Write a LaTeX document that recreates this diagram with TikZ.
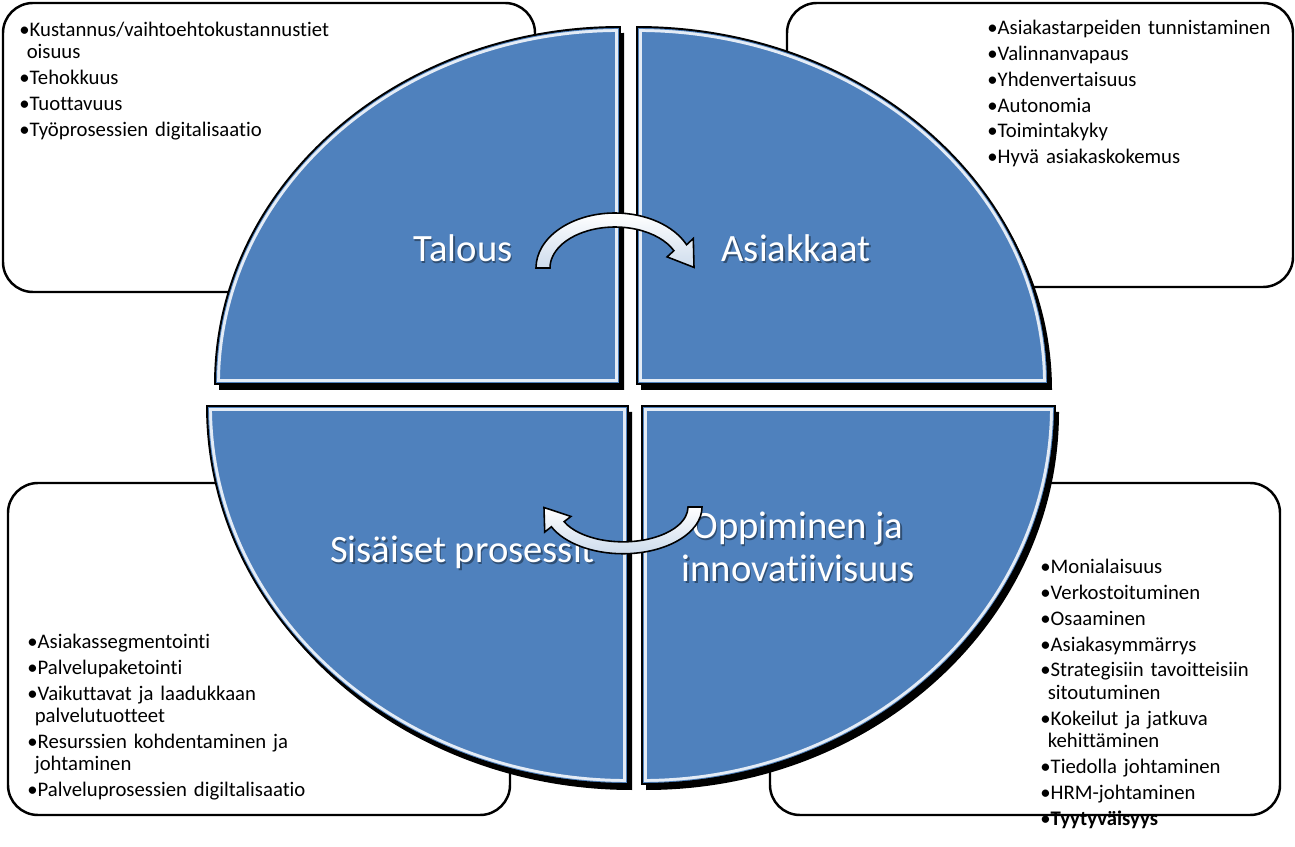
\documentclass[tikz,border=0pt]{standalone}
\usepackage{fontspec}
\setmainfont{Carlito}[Ligatures=NoCommon]
\usepackage{xcolor}
\usetikzlibrary{positioning}

\definecolor{quadblue}{HTML}{4F81BD}
\definecolor{quadhi}{HTML}{E4ECF6}

% one bullet line, hanging indent for wrapped lines
\newcommand{\bul}[1]{\par\rightskip=0pt plus 1fil\hangindent=0.36em\hangafter=1\noindent\strut\textbullet#1}
% one quadrant of the split ellipse (uses the loop variables)
\newcommand{\quadpath}{(\cx,\cy) -- ({\cx+\rx*cos(\a)},{\cy+\ry*sin(\a)}) arc[start angle=\a, delta angle=90, x radius=\rx, y radius=\ry] -- cycle}
% the curved block arrow, centred on its own ellipse
\newcommand{\cyclearrow}{(-79,0) arc[start angle=180, end angle=335, x radius=79, y radius=55]
    -- (78.3,-29.5) -- (79,-0.6) -- (52.1,-11.1) -- (58.9,-17.3)
    arc[start angle=335, end angle=180, x radius=65, y radius=41] -- cycle}

\begin{document}
\begin{tikzpicture}[
    x=0.02cm, y=-0.02cm,
    infobox/.style={draw=black, line width=1.4pt, fill=white, rounded corners=0.6cm},
    bullets/.style={
        anchor=north west, inner sep=0pt, align=left, text width=9cm,
        font=\fontsize{11.8}{12.75}\selectfont,
        execute at begin node={\setlength{\parskip}{2pt}}
    },
    qlabel/.style={text=white, font=\fontsize{22}{24.8}\selectfont, align=center, inner sep=0pt},
    qshadow/.style={qlabel, text=quadblue!30!black, opacity=0.55},
    arrowbody/.style={draw=black, line width=0.9pt, top color=white, bottom color=quadblue!28!white}
]
    \useasboundingbox[fill=white] (0,0) rectangle (1295,847);

    % Corner boxes
    \draw[infobox] (3,3) rectangle (535,292);
    \draw[infobox] (787,3) rectangle (1293,287);
    \draw[infobox] (8,483) rectangle (510,815);
    \draw[infobox] (770,483) rectangle (1280,815);

    % Quadrants: corner x / corner y / x radius / y radius / start angle
    \foreach \cx/\cy/\rx/\ry/\a in {620/384/405/357/180, 637/384/411/357/270,
                                     628/406/421/378/90, 642/406/413/378/0}{
        \fill[black, shift={(4,6)}] \quadpath;
        \begin{scope}
            \clip \quadpath;
            \fill[quadblue] \quadpath;
            \draw[quadhi, line width=5.6pt] \quadpath;
            \draw[quadblue, line width=2.2pt] \quadpath;
        \end{scope}
        \draw[black, line width=1.1pt] \quadpath;
    }

    % Quadrant titles
    \node[qshadow, anchor=base] (talouss) at (464.5,264) {Talous};
    \node[qlabel, anchor=base] (talous) at (463,262) {Talous};
    \node[qshadow, anchor=base] (asiakkaats) at (797.5,264) {Asiakkaat};
    \node[qlabel, anchor=base] (asiakkaat) at (796,262) {Asiakkaat};
    \node[qshadow, anchor=base] (sisaisets) at (464,564) {Sisäiset prosessit};
    \node[qlabel, anchor=base] (sisaiset) at (462.5,562) {Sisäiset prosessit};
    \node[qshadow] (oppiminens) at (799.5,549) {Oppiminen ja\\innovatiivisuus};
    \node[qlabel] (oppiminen) at (798,547) {Oppiminen ja\\innovatiivisuus};

    % Cycle arrows
    \draw[arrowbody, shift={(615,268)}] \cyclearrow;
    \draw[arrowbody, shift={(623,507)}, rotate=180, yscale=0.85] \cyclearrow;

    % Bullet lists
    \node[bullets] (taloulist) at (19,10) {%
        \bul{Kustannus/vaihtoehtokustannustiet\newline oisuus}
        \bul{Tehokkuus}
        \bul{Tuottavuus}
        \bul{Työprosessien digitalisaatio}};
    \node[bullets] (asiakaslist) at (987,8) {%
        \bul{Asiakastarpeiden tunnistaminen}
        \bul{Valinnanvapaus}
        \bul{Yhdenvertaisuus}
        \bul{Autonomia}
        \bul{Toimintakyky}
        \bul{Hyvä asiakaskokemus}};
    \node[bullets] (prosessilist) at (27,622) {%
        \bul{Asiakassegmentointi}
        \bul{Palvelupaketointi}
        \bul{Vaikuttavat ja laadukkaan\newline palvelutuotteet}
        \bul{Resurssien kohdentaminen ja\newline johtaminen}
        \bul{Palveluprosessien digiltalisaatio}};
    \node[bullets] (oppimislist) at (1040,547) {%
        \bul{Monialaisuus}
        \bul{Verkostoituminen}
        \bul{Osaaminen}
        \bul{Asiakasymmärrys}
        \bul{Strategisiin tavoitteisiin\newline sitoutuminen}
        \bul{Kokeilut ja jatkuva\newline kehittäminen}
        \bul{Tiedolla johtaminen}
        \bul{HRM-johtaminen}
        \bul{\bfseries Tyytyväisyys}};
\end{tikzpicture}
\end{document}
